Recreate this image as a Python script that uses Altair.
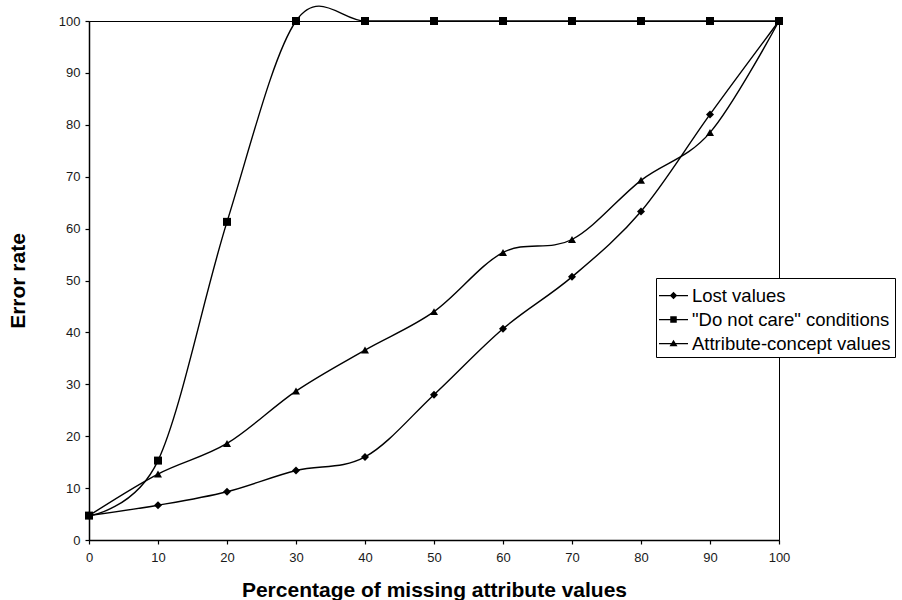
import altair as alt
import pandas as pd

x_vals = [0, 10, 20, 30, 40, 50, 60, 70, 80, 90, 100]
lost_values = [4.7, 6.7, 9.3, 13.4, 16.0, 28.0, 40.7, 50.7, 63.3, 82.0, 100]
do_not_care = [4.7, 15.3, 61.3, 100, 100, 100, 100, 100, 100, 100, 100]
attribute_concept = [4.7, 12.7, 18.6, 28.7, 36.6, 44.0, 55.4, 57.9, 69.3, 78.5, 100]

series_names = ["Lost values", '"Do not care" conditions', "Attribute-concept values"]
series_values = [lost_values, do_not_care, attribute_concept]
marker_shapes = ["diamond", "square", "triangle-up"]
marker_sizes = [64, 64, 80]

rows = []
for name, vals in zip(series_names, series_values):
    for xv, yv in zip(x_vals, vals):
        rows.append({"x": xv, "value": yv, "series": name, "entry": name})
df = pd.DataFrame(rows)

# legend symbols: thin bar (line) + marker, in unit coordinates
LINE = "M-1.16,-0.05H1.16V0.05H-1.16Z"
legend_paths = [
    LINE + "M0,-0.3L0.3,0L0,0.3L-0.3,0Z",
    LINE + "M-0.26,-0.26H0.26V0.26H-0.26Z",
    LINE + "M0,-0.3L0.32,0.22L-0.32,0.22Z",
]

FONT = "Liberation Sans"

x_enc = alt.X(
    "x:Q",
    scale=alt.Scale(domain=[0, 100], nice=False),
    axis=alt.Axis(
        values=x_vals,
        title="Percentage of missing attribute values",
        titleY=56,
        titleBaseline="alphabetic",
        labelFlush=False,
        labelPadding=7,
    ),
)
y_enc = alt.Y(
    "value:Q",
    scale=alt.Scale(domain=[0, 100], nice=False),
    axis=alt.Axis(
        values=list(range(0, 101, 10)),
        title="Error rate",
        titleX=-65,
        titleBaseline="alphabetic",
        labelPadding=5,
    ),
)

lines = alt.Chart(df).mark_line(
    interpolate="cardinal", tension=0, color="black", strokeWidth=1.4
).encode(x=x_enc, y=y_enc, detail="series:N")

points = alt.Chart(df).mark_point(filled=True, color="black", opacity=1).encode(
    x=x_enc,
    y=y_enc,
    shape=alt.Shape(
        "series:N",
        scale=alt.Scale(domain=series_names, range=marker_shapes),
        legend=None,
    ),
    size=alt.Size(
        "series:N",
        scale=alt.Scale(domain=series_names, range=marker_sizes),
        legend=None,
    ),
)

legend_layer = (
    alt.Chart(df)
    .transform_filter("false")
    .mark_point(filled=True, color="black", size=625)
    .encode(
        x=x_enc,
        y=y_enc,
        shape=alt.Shape(
            "entry:N",
            scale=alt.Scale(domain=series_names, range=legend_paths),
            legend=alt.Legend(
                title=None,
                orient="none",
                legendX=567,
                legendY=257,
                labelFont=FONT,
                labelFontSize=18.5,
                labelColor="black",
                labelOffset=5,
                labelLimit=400,
                symbolSize=625,
                symbolFillColor="black",
                symbolOpacity=1,
                strokeColor="black",
                fillColor="white",
                padding=4,
                rowPadding=1,
            ),
        ),
    )
)

chart = (
    alt.layer(lines, points, legend_layer)
    .resolve_scale(shape="independent", size="independent")
    .properties(
        width=690,
        height=519,
        background="white",
        autosize=alt.AutoSizeParams(type="none"),
        padding={"left": 89, "top": 21, "right": 123, "bottom": 60},
    )
    .configure_view(stroke="black", strokeWidth=1)
    .configure_axis(
        grid=False,
        domainColor="black",
        domainWidth=1.5,
        tickColor="black",
        tickWidth=1.2,
        tickSize=4,
        labelFont=FONT,
        labelFontSize=13,
        labelColor="#1a1a1a",
        titleFont=FONT,
        titleFontSize=21,
        titleFontWeight="bold",
        titleColor="black",
    )
)

chart.save("out.html", embed_options={"renderer": "svg", "actions": False})
